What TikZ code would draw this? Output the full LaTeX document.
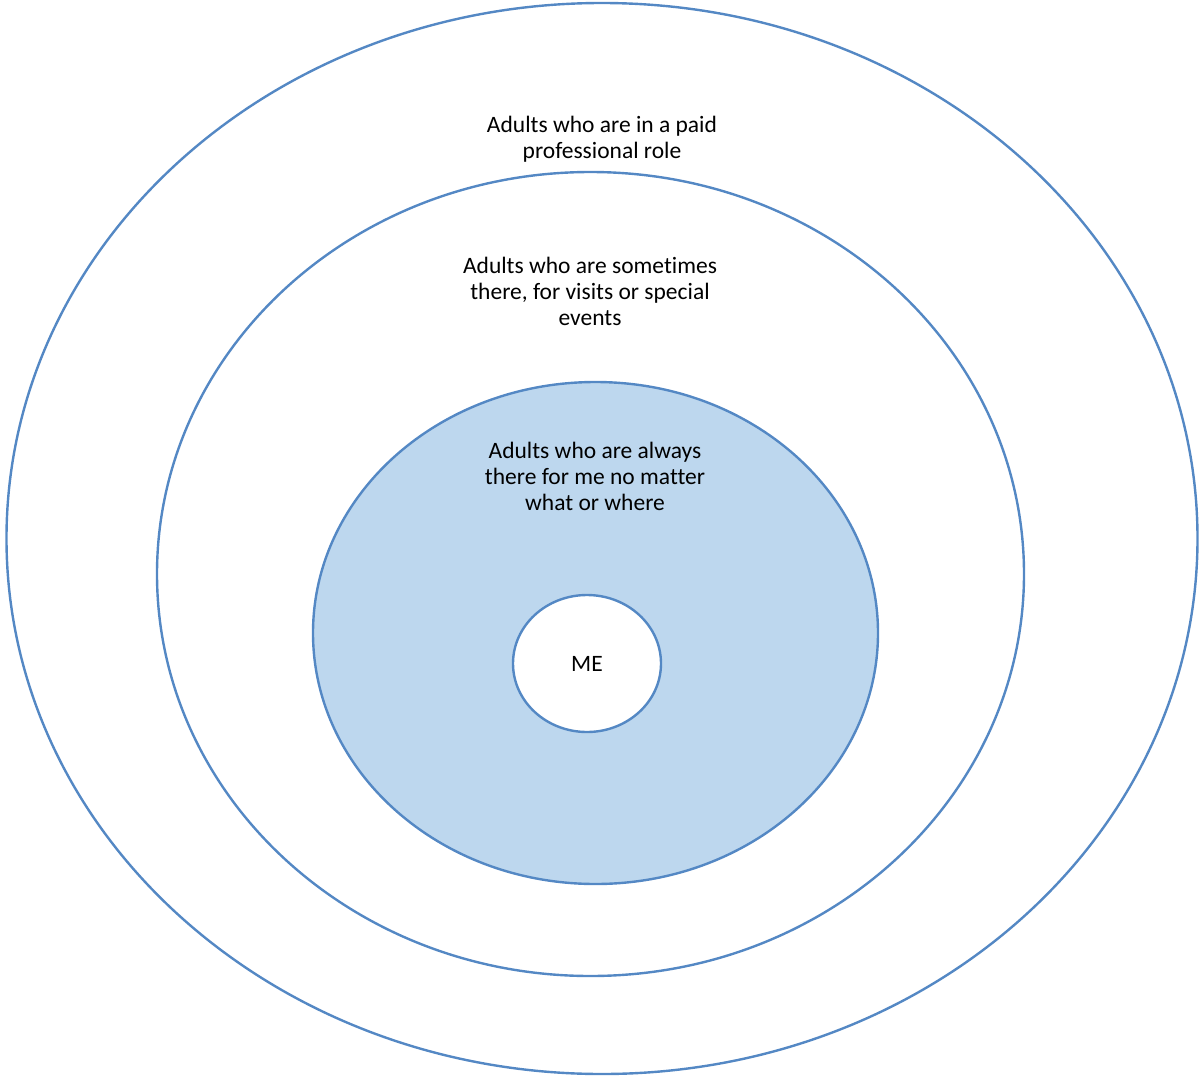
\documentclass[tikz,border=0pt]{standalone}
\usepackage{fontspec}
\setmainfont[Ligatures={NoCommon}]{Carlito}
\usetikzlibrary{shapes.geometric}
\definecolor{ringline}{RGB}{84,136,196}
\definecolor{ringfill}{RGB}{189,215,238}
\tikzset{
  ring/.style={draw=ringline, line width=2.4pt, ellipse, inner sep=0pt},
  ringtext/.style={align=center, font=\fontsize{23.5}{26}\selectfont, text=black}
}
\begin{document}
\begin{tikzpicture}[x=1pt, y=-1pt]
            \useasboundingbox (0,0) rectangle (1199,1076);
            % Rings
            \node[ring, minimum width=1191pt, minimum height=1071pt] (outer) at (602, 538.5) {};
            \node[ring, minimum width=867pt, minimum height=804pt] (middle) at (590.5, 574) {};
            \node[ring, fill=ringfill, minimum width=565pt, minimum height=502pt] (inner) at (595.5, 633) {};
            \node[ring, fill=white, minimum width=148pt, minimum height=137pt] (me) at (587, 663.5) {};
            
            % Labels
            \node[ringtext] (paid) at (602, 139.5) {Adults who are in a paid\\professional role};
            \node[ringtext] (sometimes) at (590, 291.5) {Adults who are sometimes\\there, for visits or special\\events};
            \node[ringtext] (always) at (595, 476.5) {Adults who are always\\there for me no matter\\what or where};
            \node[ringtext] (melabel) at (me.center) {ME};
\end{tikzpicture}
\end{document}
